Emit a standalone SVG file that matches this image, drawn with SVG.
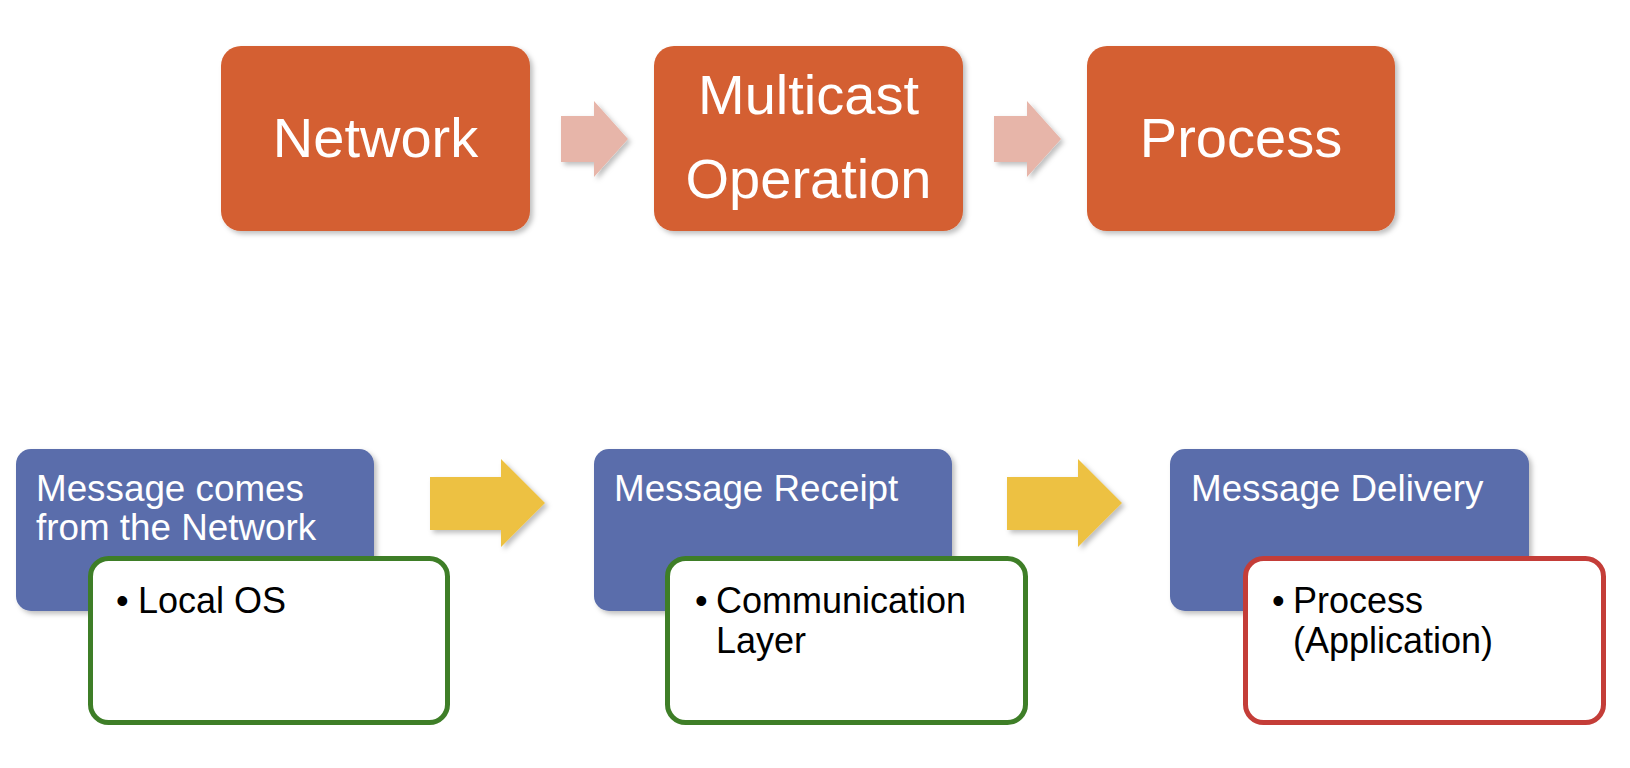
<svg xmlns="http://www.w3.org/2000/svg" width="1630" height="768" viewBox="0 0 1630 768">
<defs>
<filter id="sh" x="-10%" y="-10%" width="125%" height="125%">
<feDropShadow dx="3" dy="3" stdDeviation="2.5" flood-color="#000" flood-opacity="0.25"/>
</filter>
<style>
.top{fill:#D45F31;filter:url(#sh)}
.tt{font-family:"Liberation Sans",Arial,sans-serif;font-size:56px;fill:#fff;text-anchor:middle}
.blue{fill:#5A6DAB;filter:url(#sh)}
.bt{font-family:"Liberation Sans",Arial,sans-serif;font-size:36.8px;fill:#fff}
.wg{fill:#fff;stroke:#3E7E27;stroke-width:5}
.wr{fill:#fff;stroke:#C43D38;stroke-width:5}
.kt{font-family:"Liberation Sans",Arial,sans-serif;font-size:36px;fill:#000}
.pa{fill:#E7B5A9;filter:url(#sh)}
.ya{fill:#EDC142;filter:url(#sh)}
</style>
</defs>
<rect width="1630" height="768" fill="#fff"/>
<g id="connectors">
<polygon class="pa" points="561,116 594,116 594,101 628,139 594,177 594,162 561,162"/>
<polygon class="pa" points="994,116 1027,116 1027,101 1061,139 1027,177 1027,162 994,162"/>
<polygon class="ya" points="430,477 501,477 501,459 545,503 501,547 501,530 430,530"/>
<polygon class="ya" points="1007,477 1078,477 1078,459 1122,503 1078,547 1078,530 1007,530"/>
</g>
<g id="network">
<rect class="top" x="221" y="46" width="309" height="185" rx="20"/>
<text class="tt" x="375.5" y="157">Network</text>
</g>
<g id="multicast">
<rect class="top" x="654" y="46" width="309" height="185" rx="20"/>
<text class="tt" x="808.5" y="114">Multicast</text>
<text class="tt" x="808.5" y="198">Operation</text>
</g>
<g id="process">
<rect class="top" x="1087" y="46" width="308" height="185" rx="20"/>
<text class="tt" x="1241" y="157">Process</text>
</g>
<g id="msg-network">
<rect class="blue" x="16" y="449" width="358" height="162" rx="15"/>
<text class="bt" x="36" y="501">Message comes</text>
<text class="bt" x="36" y="540">from the Network</text>
</g>
<g id="local-os">
<rect class="wg" x="90.5" y="558.5" width="357" height="164" rx="18"/>
<text class="kt" x="116" y="613">•</text>
<text class="kt" x="138" y="613">Local OS</text>
</g>
<g id="msg-receipt">
<rect class="blue" x="594" y="449" width="358" height="162" rx="15"/>
<text class="bt" x="614" y="501">Message Receipt</text>
</g>
<g id="comm-layer">
<rect class="wg" x="667.5" y="558.5" width="358" height="164" rx="18"/>
<text class="kt" x="695" y="613">•</text>
<text class="kt" x="716" y="613">Communication</text>
<text class="kt" x="716" y="653">Layer</text>
</g>
<g id="msg-delivery">
<rect class="blue" x="1170" y="449" width="359" height="162" rx="15"/>
<text class="bt" x="1191" y="501">Message Delivery</text>
</g>
<g id="process-app">
<rect class="wr" x="1245.5" y="558.5" width="358" height="164" rx="18"/>
<text class="kt" x="1272" y="613">•</text>
<text class="kt" x="1293" y="613">Process</text>
<text class="kt" x="1293" y="653">(Application)</text>
</g>
</svg>
